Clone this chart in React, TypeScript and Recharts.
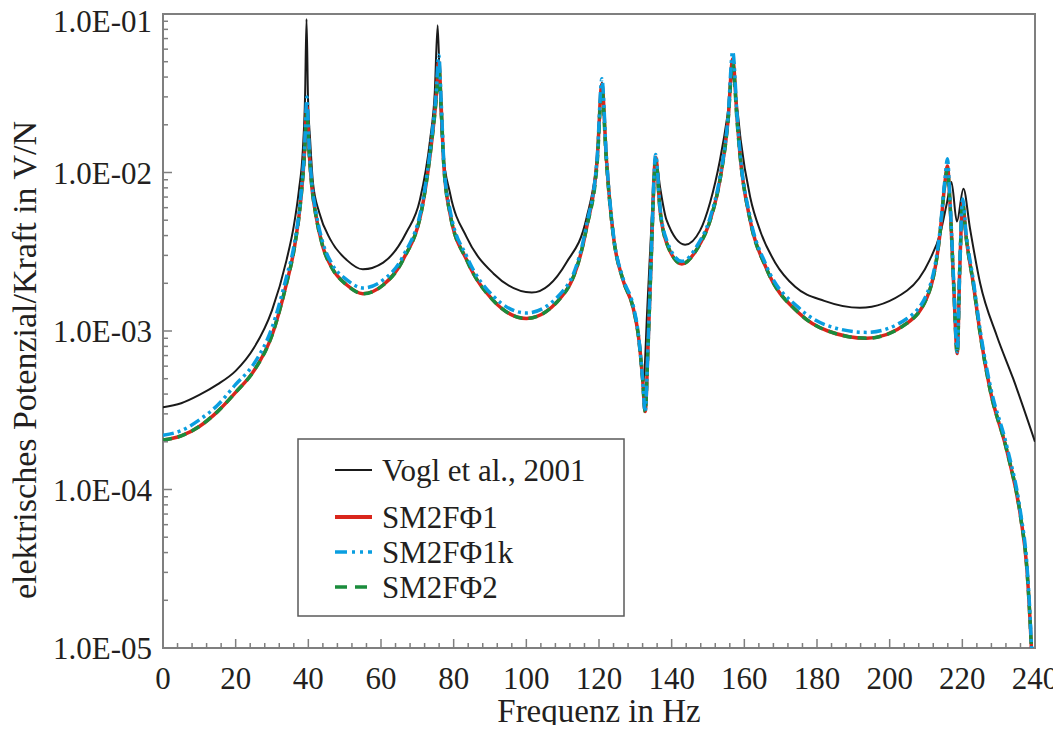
import { LineChart, Line, XAxis, YAxis, ReferenceArea, Legend, Label } from "recharts";

// frequencies in Hz, values in V/N
const freqVogl = [0, 5, 10, 15, 20, 25, 30, 34, 36, 37.4, 38.5, 39.1, 39.5, 39.9, 40.5, 41.3, 43, 46, 50.6, 55,
  60.6, 67, 70.7, 73.5, 74.8, 75.6, 76.3, 77, 79, 83.6, 91, 101.5, 111, 116.6, 119.5, 120.8, 122, 124, 126.6, 129.4,
  130.8, 132.2, 133.3, 134.5, 135.6, 136.8, 138.6, 143.7, 147.8, 150.6, 153.3, 155.5, 156.8, 158, 159, 161.6, 164.5, 168.5, 174, 182,
  191.8, 204.8, 211, 214, 215.8, 217, 218.5, 220.3, 222.1, 224.9, 229.5, 234, 240];
const vogl = [3.3e-4, 3.5e-4, 3.95e-4, 4.6e-4, 5.6e-4, 7.8e-4, 1.35e-3, 2.8e-3, 4.6e-3, 7.7e-3, 0.014, 0.03, 0.093, 0.03, 0.016, 8.5e-3, 5.6e-3, 3.8e-3, 2.8e-3, 2.45e-3,
  2.7e-3, 4.2e-3, 6.7e-3, 0.016, 0.032, 0.085, 0.028, 0.0138, 7.4e-3, 3.9e-3, 2.3e-3, 1.75e-3, 2.7e-3, 5.2e-3, 0.013, 0.037, 0.0133, 3.9e-3, 2.1e-3, 1.4e-3,
  9.8e-4, 4.7e-4, 1.4e-3, 5.0e-3, 0.0125, 8.1e-3, 5.0e-3, 3.5e-3, 4.3e-3, 6.5e-3, 0.012, 0.024, 0.04, 0.026, 0.016, 7.0e-3, 4.2e-3, 2.7e-3, 1.9e-3, 1.55e-3,
  1.4e-3, 1.8e-3, 2.8e-3, 4.2e-3, 6.5e-3, 8.7e-3, 4.9e-3, 7.9e-3, 4.45e-3, 2.0e-3, 9.3e-4, 5.0e-4, 2.0e-4];

const freqSim = [0, 5, 10, 15, 20, 25, 30, 34, 36, 38, 39, 39.6, 40.2, 41, 42, 44, 46.5, 50.6, 55, 60.6,
  66, 71.6, 74, 75.2, 75.9, 76.6, 77.3, 79, 83.6, 91, 100, 111, 116.6, 119.5, 120.8, 122, 124, 126.6, 129.4, 130.8,
  132, 132.7, 133.5, 134.3, 135.6, 136.8, 138.6, 142.8, 147, 150.6, 153.3, 155.5, 156.8, 158, 158.8, 161.6, 166, 175, 183, 193.7,
  204.8, 211, 213.9, 215.2, 215.9, 216.6, 217.6, 218.6, 219.3, 220.1, 221, 223, 225, 227.6, 232.3, 236, 237.8, 238.7, 239.1];
const sm2f1 = [2.05e-4, 2.18e-4, 2.5e-4, 3.1e-4, 4.1e-4, 5.6e-4, 9.4e-4, 2.0e-3, 3.2e-3, 7.0e-3, 0.014, 0.026, 0.014, 8.0e-3, 5.5e-3, 3.4e-3, 2.5e-3, 1.95e-3, 1.72e-3, 1.95e-3,
  2.8e-3, 6.5e-3, 0.016, 0.03, 0.05, 0.025, 0.011, 5.5e-3, 2.8e-3, 1.55e-3, 1.2e-3, 1.8e-3, 4.5e-3, 0.012, 0.036, 0.0125, 3.9e-3, 2.1e-3, 1.4e-3, 9.5e-4,
  5.0e-4, 3.1e-4, 8.0e-4, 2.6e-3, 0.0125, 5.8e-3, 3.6e-3, 2.65e-3, 3.3e-3, 5.0e-3, 9.0e-3, 0.021, 0.052, 0.022, 0.013, 5.0e-3, 2.5e-3, 1.3e-3, 1.0e-3, 9.0e-4,
  1.12e-3, 1.8e-3, 4.2e-3, 8.6e-3, 0.011, 6.5e-3, 2.0e-3, 7.2e-4, 2.5e-3, 6.5e-3, 4.0e-3, 2.0e-3, 9.3e-4, 4.3e-4, 1.74e-4, 6.8e-5, 3.1e-5, 1.4e-5, 9e-6];
const sm2f1k = [2.2e-4, 2.35e-4, 2.75e-4, 3.4e-4, 4.6e-4, 6.2e-4, 1.05e-3, 2.2e-3, 3.4e-3, 7.4e-3, 0.015, 0.03, 0.015, 8.4e-3, 5.8e-3, 3.6e-3, 2.65e-3, 2.1e-3, 1.87e-3, 2.1e-3,
  2.95e-3, 6.8e-3, 0.017, 0.032, 0.055, 0.027, 0.0115, 5.8e-3, 2.95e-3, 1.65e-3, 1.3e-3, 1.9e-3, 4.7e-3, 0.0125, 0.039, 0.013, 4.0e-3, 2.15e-3, 1.45e-3, 9.7e-4,
  5.0e-4, 3.1e-4, 8.2e-4, 2.7e-3, 0.013, 6.0e-3, 3.75e-3, 2.75e-3, 3.45e-3, 5.2e-3, 9.4e-3, 0.022, 0.058, 0.023, 0.0135, 5.2e-3, 2.6e-3, 1.4e-3, 1.08e-3, 9.8e-4,
  1.2e-3, 1.9e-3, 4.4e-3, 9.0e-3, 0.0122, 6.8e-3, 2.1e-3, 7.4e-4, 2.6e-3, 6.8e-3, 4.2e-3, 2.1e-3, 9.8e-4, 4.6e-4, 1.85e-4, 7.2e-5, 3.3e-5, 1.5e-5, 9.5e-6];
const sm2f2 = [2.05e-4, 2.18e-4, 2.5e-4, 3.1e-4, 4.1e-4, 5.6e-4, 9.4e-4, 2.0e-3, 3.2e-3, 7.0e-3, 0.0135, 0.024, 0.0135, 8.0e-3, 5.5e-3, 3.4e-3, 2.5e-3, 1.95e-3, 1.72e-3, 1.95e-3,
  2.8e-3, 6.5e-3, 0.016, 0.029, 0.047, 0.024, 0.011, 5.5e-3, 2.8e-3, 1.55e-3, 1.2e-3, 1.8e-3, 4.5e-3, 0.0115, 0.033, 0.012, 3.9e-3, 2.1e-3, 1.4e-3, 9.5e-4,
  5.0e-4, 3.1e-4, 8.0e-4, 2.6e-3, 0.012, 5.8e-3, 3.6e-3, 2.65e-3, 3.3e-3, 5.0e-3, 9.0e-3, 0.021, 0.049, 0.021, 0.013, 5.0e-3, 2.5e-3, 1.3e-3, 1.0e-3, 9.0e-4,
  1.12e-3, 1.8e-3, 4.2e-3, 8.5e-3, 0.0105, 6.4e-3, 2.0e-3, 7.2e-4, 2.5e-3, 6.4e-3, 4.0e-3, 2.0e-3, 9.3e-4, 4.3e-4, 1.74e-4, 6.8e-5, 3.1e-5, 1.4e-5, 9e-6];

const xLabels = [0, 20, 40, 60, 80, 100, 120, 140, 160, 180, 200, 220, 240];
const yLabels = [1e-5, 1e-4, 1e-3, 1e-2, 1e-1];

const seriesNames = ["Vogl et al., 2001", "SM2F\u03A61", "SM2F\u03A61k", "SM2F\u03A62"];

const FONT = "'Liberation Serif', 'Times New Roman', serif";
const TEXT = "#231f20";
const FRAME = "#7f7f7f";
const W = 1053, H = 717;
const PL = 155, PR = 1027, PT = 6, PB = 640;

const toRows = (fs: number[], vs: number[]) => fs.map((f, i) => ({ f, v: vs[i] }));

const xTicks: number[] = [];
for (let f = 0; f <= 240; f += 4) xTicks.push(f);
const yTicks: number[] = [];
for (let d = -5; d <= -2; d++) {
  for (let k = 1; k <= 9; k++) yTicks.push(Number((k * Math.pow(10, d)).toPrecision(3)));
}
yTicks.push(0.1);

const fmtExp = (v: number) => {
  const e = Math.round(Math.log10(v));
  return "1.0E" + (e < 0 ? "-" : "+") + String(Math.abs(e)).padStart(2, "0");
};

const YTick = (props: any) => {
  const { y, payload } = props;
  const v = payload.value;
  const major = yLabels.some(l => Math.abs(l - v) / l < 1e-6);
  // top label is pushed down a little so it stays on the page, as in the original
  const ly = v >= 0.099 ? y + 7 : y;
  return (
    <g>
      <line x1={PL} x2={PL + (major ? 9 : 5)} y1={y} y2={y} stroke={FRAME} strokeWidth={1.5} />
      {major && (
        <text x={PL - 11} y={ly} dy="0.36em" textAnchor="end" fontSize={31} fontFamily={FONT} fill={TEXT}>
          {fmtExp(v)}
        </text>
      )}
    </g>
  );
};

const XTick = (props: any) => {
  const { x, payload } = props;
  const major = xLabels.includes(payload.value);
  return (
    <g>
      <line x1={x} x2={x} y1={PB} y2={PB - (major ? 9 : 5)} stroke={FRAME} strokeWidth={1.5} />
      {major && (
        <text x={x} y={PB + 41} textAnchor="middle" fontSize={31} fontFamily={FONT} fill={TEXT}>
          {payload.value}
        </text>
      )}
    </g>
  );
};

const YTitle = () => (
  <text
    transform="translate(28, 352) rotate(-90)"
    textAnchor="middle"
    fontSize={34}
    fontFamily={FONT}
    fill={TEXT}
  >
    elektrisches Potenzial/Kraft in V/N
  </text>
);

const XTitle = () => (
  <text x={(PL + PR) / 2} y={H - 3} textAnchor="middle" fontSize={33} fontFamily={FONT} fill={TEXT}>
    Frequenz in Hz
  </text>
);

const legendRows = [
  { name: seriesNames[0], color: "#1a1a1a", width: 2, dash: undefined, y: 32 },
  { name: seriesNames[1], color: "#d9261c", width: 4, dash: undefined, y: 79 },
  { name: seriesNames[2], color: "#0a9ee0", width: 3.5, dash: "12 5 3 5 3 5", y: 114 },
  { name: seriesNames[3], color: "#1a8c3c", width: 3.5, dash: "12 8", y: 149 },
];

const LegendBox = () => (
  <svg width={328} height={179}>
    <rect x={1} y={1} width={326} height={177} fill="#fff" stroke="#5a5a5a" strokeWidth={1.5} />
    {legendRows.map(r => (
      <g key={r.name}>
        <line x1={38} x2={75} y1={r.y} y2={r.y} stroke={r.color} strokeWidth={r.width} strokeDasharray={r.dash} />
        <text x={85} y={r.y} dy="0.36em" fontSize={31} fontFamily={FONT} fill={TEXT}>{r.name}</text>
      </g>
    ))}
  </svg>
);

export default function App() {
  return (
    <div style={{ position: "relative", width: W, height: H }}>
      <style>{".recharts-surface { overflow: visible; }"}</style>
      <LineChart width={W} height={H} margin={{ top: PT, right: W - PR, bottom: 0, left: 0 }}>
        <XAxis
          dataKey="f"
          type="number"
          domain={[0, 240]}
          ticks={xTicks}
          interval={0}
          tick={<XTick />}
          tickLine={false}
          axisLine={false}
          height={H - PB}
          allowDataOverflow
        >
          <Label content={<XTitle />} />
        </XAxis>
        <YAxis
          dataKey="v"
          scale="log"
          type="number"
          domain={[1e-5, 1e-1]}
          ticks={yTicks}
          interval={0}
          tick={<YTick />}
          tickLine={false}
          axisLine={false}
          width={PL}
          allowDataOverflow
        >
          <Label content={<YTitle />} />
        </YAxis>
        <ReferenceArea x1={0} x2={240} y1={1e-5} y2={1e-1} fill="none" stroke={FRAME} strokeWidth={2} />
        <Line data={toRows(freqVogl, vogl)} dataKey="v" name={seriesNames[0]} type="monotone" stroke="#1a1a1a" strokeWidth={2} dot={false} isAnimationActive={false} />
        <Line data={toRows(freqSim, sm2f1)} dataKey="v" name={seriesNames[1]} type="monotone" stroke="#d9261c" strokeWidth={3.5} dot={false} isAnimationActive={false} />
        <Line data={toRows(freqSim, sm2f2)} dataKey="v" name={seriesNames[3]} type="monotone" stroke="#1a8c3c" strokeWidth={3.5} strokeDasharray="9 6" dot={false} isAnimationActive={false} />
        <Line data={toRows(freqSim, sm2f1k)} dataKey="v" name={seriesNames[2]} type="monotone" stroke="#0a9ee0" strokeWidth={3.5} strokeDasharray="11 4 3 4 3 4" dot={false} isAnimationActive={false} />
        <Legend
          layout="vertical"
          align="center"
          verticalAlign="middle"
          content={<LegendBox />}
          wrapperStyle={{ position: "absolute", left: 289, top: 430, width: 328, height: 179 }}
        />
      </LineChart>
    </div>
  );
}
